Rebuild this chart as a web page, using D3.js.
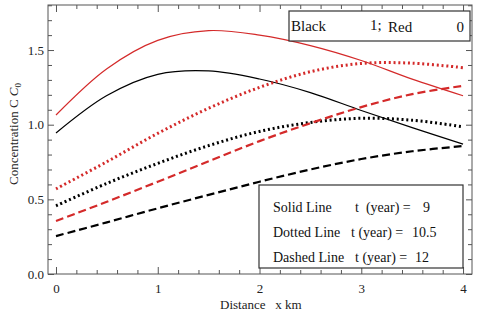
<!DOCTYPE html>
<html><head><meta charset="utf-8">
<script src="https://cdn.jsdelivr.net/npm/d3@7"></script>
<style>
html,body{margin:0;padding:0;background:#fff;}
svg{display:block;font-family:"Liberation Serif","Times New Roman",serif;}
</style></head>
<body><svg id="c" width="480" height="317"></svg>
<script>
const xs = [0, 0.5, 1, 1.5, 2, 2.5, 3, 3.5, 4];
const solidRed    = [1.065, 1.375, 1.565, 1.630, 1.600, 1.530, 1.430, 1.305, 1.194];
const solidBlack  = [0.944, 1.195, 1.337, 1.360, 1.306, 1.215, 1.095, 0.980, 0.870];
const dottedRed   = [0.570, 0.752, 0.942, 1.110, 1.250, 1.355, 1.410, 1.412, 1.382];
const dottedBlack = [0.457, 0.607, 0.741, 0.860, 0.955, 1.015, 1.043, 1.030, 0.986];
const dashedRed   = [0.355, 0.484, 0.618, 0.755, 0.890, 1.010, 1.118, 1.205, 1.260];
const dashedBlack = [0.254, 0.346, 0.440, 0.530, 0.618, 0.700, 0.770, 0.822, 0.857];
const xTicks = [0, 1, 2, 3, 4];
const yTicks = [0.0, 0.5, 1.0, 1.5];
const legendTop = ["Black", "1;", "Red", "0"];
const legendRows = [["Solid Line", "t  (year) =", "9"], ["Dotted Line", "t (year) =", "10.5"], ["Dashed Line", "t (year) =", "12"]];

const svg = d3.select("#c");
const L = 48, R = 472, T = 5, B = 274;
const x = d3.scaleLinear().domain([-0.0786, 4.088]).range([L, R]);
const y = d3.scaleLinear().domain([0, 1.8017]).range([B, T]);
const RED = "#d42a2a", BLK = "#000";
const axisCol = "#555";

// frame
svg.append("rect").attr("x", L).attr("y", T).attr("width", R - L).attr("height", B - T)
  .attr("fill", "none").attr("stroke", axisCol).attr("stroke-width", 1);

// ticks
const xMinor = d3.range(0, 4.01, 0.2).filter(v => Math.abs(v - Math.round(v)) > 1e-6);
const yMinor = d3.range(0, 1.801, 0.1).filter(v => Math.abs(v * 2 - Math.round(v * 2)) > 1e-6);
svg.append("g").attr("transform", `translate(0,${B})`)
  .call(d3.axisBottom(x).tickValues(xTicks).tickSizeInner(-7).tickSizeOuter(0).tickPadding(10).tickFormat(d3.format("d")));
svg.append("g").attr("transform", `translate(0,${B})`)
  .call(d3.axisBottom(x).tickValues(xMinor).tickSizeInner(-4).tickSizeOuter(0).tickFormat(""));
svg.append("g").attr("transform", `translate(0,${T})`)
  .call(d3.axisTop(x).tickValues(xTicks).tickSizeInner(-7).tickSizeOuter(0).tickFormat(""));
svg.append("g").attr("transform", `translate(0,${T})`)
  .call(d3.axisTop(x).tickValues(xMinor).tickSizeInner(-4).tickSizeOuter(0).tickFormat(""));
svg.append("g").attr("transform", `translate(${L},0)`)
  .call(d3.axisLeft(y).tickValues(yTicks).tickSizeInner(-6).tickSizeOuter(0).tickPadding(4).tickFormat(d3.format(".1f")));
svg.append("g").attr("transform", `translate(${L},0)`)
  .call(d3.axisLeft(y).tickValues(yMinor).tickSizeInner(-4).tickSizeOuter(0).tickFormat(""));
svg.append("g").attr("transform", `translate(${R},0)`)
  .call(d3.axisRight(y).tickValues(yTicks).tickSizeInner(-6).tickSizeOuter(0).tickFormat(""));
svg.append("g").attr("transform", `translate(${R},0)`)
  .call(d3.axisRight(y).tickValues(yMinor).tickSizeInner(-4).tickSizeOuter(0).tickFormat(""));
svg.selectAll(".domain").remove();
svg.selectAll(".tick line").attr("stroke", axisCol);
svg.selectAll(".tick text").attr("font-family", "Liberation Serif").attr("font-size", 13).attr("fill", "#222");

// curves
const line = d3.line().x((d, i) => x(xs[i])).y(d => y(d)).curve(d3.curveCatmullRom.alpha(0.5));
const series = [
  {v: solidRed, c: RED, w: 1.2, da: null},
  {v: solidBlack, c: BLK, w: 1.2, da: null},
  {v: dottedRed, c: RED, w: 3, da: "2,2.8"},
  {v: dottedBlack, c: BLK, w: 3, da: "2,2.8"},
  {v: dashedRed, c: RED, w: 2.2, da: "8,4"},
  {v: dashedBlack, c: BLK, w: 2.2, da: "8,4"}
];
series.forEach(s => {
  svg.append("path").attr("d", line(s.v)).attr("fill", "none").attr("stroke", s.c)
    .attr("stroke-width", s.w).attr("stroke-dasharray", s.da);
});

// top legend
svg.append("rect").attr("x", 289).attr("y", 11).attr("width", 181).attr("height", 30)
  .attr("fill", "#fff").attr("stroke", "#333").attr("stroke-width", 1.2);
const tl = svg.append("g").attr("font-size", 15).attr("fill", "#111");
tl.append("text").attr("x", 291).attr("y", 31).text(legendTop[0]);
tl.append("text").attr("x", 370).attr("y", 30).text(legendTop[1]);
tl.append("text").attr("x", 388).attr("y", 32).text(legendTop[2]);
tl.append("text").attr("x", 464).attr("y", 32).attr("text-anchor", "end").text(legendTop[3]);

// bottom legend
svg.append("rect").attr("x", 259).attr("y", 185).attr("width", 204).attr("height", 83)
  .attr("fill", "#fff").attr("stroke", "#333").attr("stroke-width", 1.2);
const bl = svg.append("g").attr("font-size", 14).attr("fill", "#111");
const rowY = [212, 237, 262];
const colX = [[273, 355, 423], [273, 351, 412], [273, 355, 415]];
legendRows.forEach((r, i) => {
  r.forEach((t, j) => {
    bl.append("text").attr("x", colX[i][j]).attr("y", rowY[i]).attr("xml:space", "preserve").text(t);
  });
});

// axis titles
svg.append("text").attr("x", 220).attr("y", 309).attr("font-size", 13).attr("fill", "#222")
  .attr("xml:space", "preserve").text("Distance   x km");
const yt = svg.append("text").attr("transform", "translate(18,134) rotate(-90)")
  .attr("text-anchor", "middle").attr("font-size", 13).attr("fill", "#222");
yt.append("tspan").text("Concentration C ");
yt.append("tspan").attr("font-style", "italic").text("C");
yt.append("tspan").attr("font-size", 9).attr("dy", 3).text("0");
</script></body></html>
